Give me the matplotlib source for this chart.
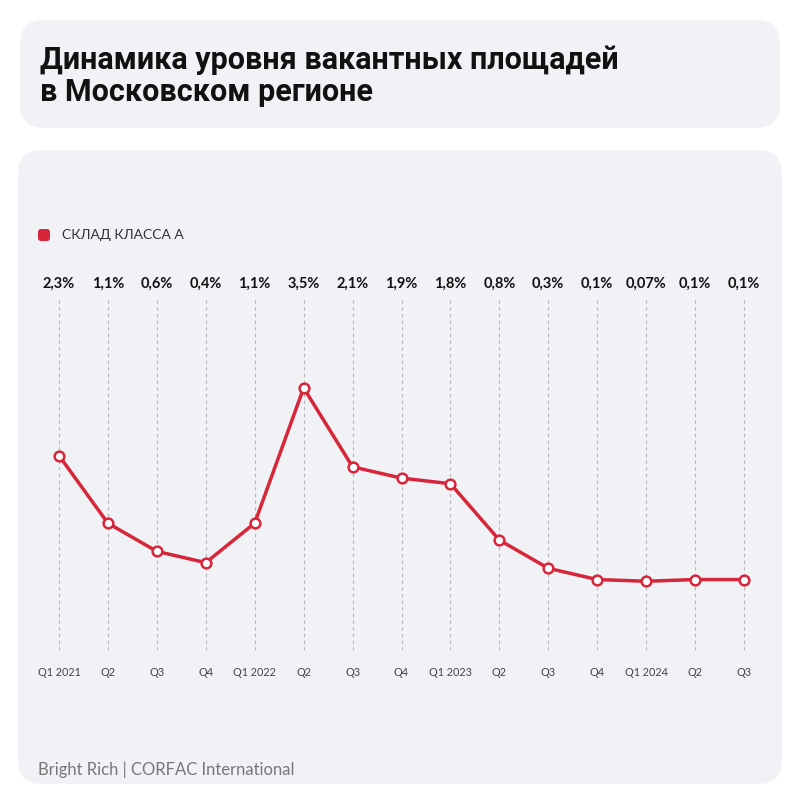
import matplotlib
matplotlib.use("Agg")
import matplotlib.pyplot as plt
from matplotlib.patches import FancyBboxPatch

quarters = ["Q1 2021", "Q2", "Q3", "Q4", "Q1 2022", "Q2", "Q3", "Q4",
            "Q1 2023", "Q2", "Q3", "Q4", "Q1 2024", "Q2", "Q3"]
vacancy = [2.3, 1.1, 0.6, 0.4, 1.1, 3.5, 2.1, 1.9, 1.8, 0.8, 0.3, 0.1, 0.07, 0.1, 0.1]
value_labels = ["2,3%", "1,1%", "0,6%", "0,4%", "1,1%", "3,5%", "2,1%", "1,9%",
                "1,8%", "0,8%", "0,3%", "0,1%", "0,07%", "0,1%", "0,1%"]

RED = "#d7263a"
PANEL = "#f1f2f6"

fig = plt.figure(figsize=(8, 8), dpi=100)
fig.patch.set_facecolor("white")

# background panels (figure pixel coords / 800)
def panel(x0, y0, x1, y1):
    W = 800.0
    p = FancyBboxPatch((x0 / W, 1 - y1 / W), (x1 - x0) / W, (y1 - y0) / W,
                       boxstyle="round,pad=0,rounding_size=0.03",
                       transform=fig.transFigure, facecolor=PANEL,
                       edgecolor="none", zorder=0)
    fig.patches.append(p)

panel(20, 20, 780, 128)
panel(18, 150, 782, 784)

fig.text(40 / 800, 1 - 76 / 800, "Динамика уровня вакантных площадей\nв Московском регионе",
         fontsize=22, fontweight="bold", family="Roboto", color="#111111",
         va="center", ha="left", linespacing=1.05)

# legend
leg = FancyBboxPatch((38 / 800, 1 - 241 / 800), 12 / 800, 12 / 800,
                     boxstyle="round,pad=0,rounding_size=0.004",
                     transform=fig.transFigure, facecolor=RED, edgecolor="none")
fig.patches.append(leg)
fig.text(62 / 800, 1 - 235 / 800, "СКЛАД КЛАССА А", fontsize=10, family="Lato",
         color="#333333", va="center", ha="left")

fig.text(38 / 800, 1 - 770 / 800, "Bright Rich | CORFAC International", fontsize=12,
         family="Lato", color="#777777", va="center", ha="left")

ax = fig.add_axes([34.5 / 800, 150 / 800, 734 / 800, 350 / 800], zorder=2)
ax.set_facecolor("none")
x = list(range(len(quarters)))
ax.plot(x, vacancy, color=RED, lw=2.5, marker="o", markersize=7,
        markerfacecolor="white", markeredgecolor=RED, markeredgewidth=1.8,
        clip_on=False, zorder=3)
for xi in x:
    ax.axvline(xi, color="#b5b5b5", lw=0.8, ls=(0, (3, 3)), zorder=1)
for xi, lab in zip(x, value_labels):
    ax.text(xi, 1.046, lab, transform=ax.get_xaxis_transform(), ha="center",
            va="center", fontsize=10.5, fontweight="bold", family="Lato",
            color="#111111")

ax.set_xlim(-0.5, 14.5)
ax.set_ylim(-1.15, 5.06)
ax.set_xticks(x)
ax.set_xticklabels(quarters, fontsize=7.8, family="Lato", color="#444444")
ax.tick_params(axis="x", length=0, pad=12)
ax.set_yticks([])
for s in ax.spines.values():
    s.set_visible(False)

fig.savefig("out.png", dpi=100, facecolor=fig.get_facecolor())
